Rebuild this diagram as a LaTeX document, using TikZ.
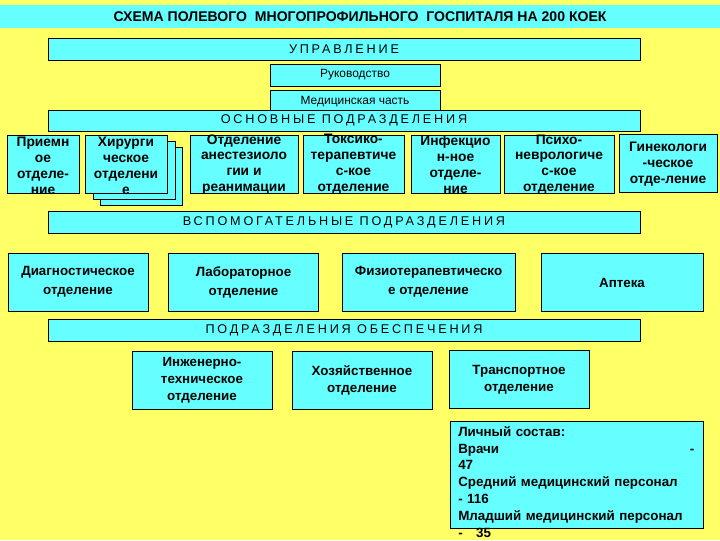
\documentclass[tikz,border=0pt]{standalone}
\usepackage{fontspec}
\setmainfont{Liberation Sans}
\definecolor{bgyellow}{RGB}{255,255,102}
\definecolor{boxcyan}{RGB}{102,255,255}

\begin{document}
\begin{tikzpicture}[x=0.025cm,y=-0.025cm,
    box/.style={draw=black,fill=boxcyan,line width=0.6pt,inner sep=0pt,align=center},
    head/.style={box,minimum width=14.8cm,minimum height=0.55cm,
        font=\fontsize{9}{10}\selectfont\addfontfeature{LetterSpace=22}},
    small/.style={box,minimum width=4.25cm,minimum height=0.55cm,font=\fontsize{8.5}{10}\selectfont},
    deptA/.style={align=center,inner sep=0pt,font=\bfseries\fontsize{9.8}{11.3}\selectfont},
    deptB/.style={box,minimum height=1.45cm,font=\bfseries\fontsize{9.5}{13.5}\selectfont},
    deptC/.style={box,minimum height=1.45cm,font=\bfseries\fontsize{9.5}{12}\selectfont}]
    \useasboundingbox (0,0) rectangle (720,540);
    \fill[bgyellow] (0,0) rectangle (720,540);

    % --- TITLE AND MANAGEMENT ---
    \node[fill=boxcyan,inner sep=0pt,minimum width=18cm,minimum height=0.55cm,
        font=\bfseries\fontsize{10}{11}\selectfont] (title) at (360,16.5)
        {СХЕМА ПОЛЕВОГО\ \ МНОГОПРОФИЛЬНОГО\ \ ГОСПИТАЛЯ НА 200 КОЕК};
    \node[head] (upr) at (344,49) {УПРАВЛЕНИЕ};
    \node[small] (ruk) at (355,75) {Руководство};
    \node[small] (med) at (355,101.5) {Медицинская часть};
    \node[head,minimum height=0.525cm] (osn) at (344,120.5) {ОСНОВНЫЕ ПОДРАЗДЕЛЕНИЯ};

    % --- MAIN DEPARTMENTS ---
    \node[box,minimum width=1.8cm,minimum height=1.45cm] (priem) at (43,164) {};
    \node[box,minimum width=2.05cm,minimum height=1.45cm] (hirC) at (141,176.5) {};
    \node[box,minimum width=2.05cm,minimum height=1.45cm] (hirB) at (134,170.5) {};
    \node[box,minimum width=2.05cm,minimum height=1.45cm] (hir) at (126,164.5) {};
    \node[box,minimum width=2.7cm,minimum height=1.45cm] (anest) at (244,164) {};
    \node[box,minimum width=2.525cm,minimum height=1.45cm] (toks) at (353.5,164) {};
    \node[box,minimum width=2.225cm,minimum height=1.45cm] (infek) at (455.5,164) {};
    \node[box,minimum width=2.75cm,minimum height=1.45cm] (psih) at (559,164) {};
    \node[box,minimum width=2.45cm,minimum height=1.45cm] (gin) at (668,163.5) {};
    \node[deptA] (priemT) at (43,166) {Приемн\\ое\\отделе-\\ние};
    \node[deptA] (hirT) at (126,166) {Хирурги\\ческое\\отделени\\е};
    \node[deptA] (anestT) at (244,164.5) {Отделение\\анестезиоло\\гии и\\реанимации};
    \node[deptA] (toksT) at (353.5,164) {Токсико-\\терапевтиче\\с-кое\\отделение};
    \node[deptA] (infekT) at (455.5,164.5) {Инфекцио\\н-ное\\отделе-\\ние};
    \node[deptA] (psihT) at (559,164.5) {Психо-\\неврологиче\\с-кое\\отделение};
    \node[deptA] (ginT) at (668,164.5) {Гинекологи\\-ческое\\отде-ление};

    % --- AUXILIARY DEPARTMENTS ---
    \node[head] (vsp) at (344,222) {ВСПОМОГАТЕЛЬНЫЕ ПОДРАЗДЕЛЕНИЯ};
    \node[deptB,minimum width=3.5cm] (diag) at (78,282) {Диагностическое\\отделение};
    \node[deptB,minimum width=3.75cm] (lab) at (243.5,282) {Лабораторное\\отделение};
    \node[deptB,minimum width=4.325cm] (fiz) at (428.5,282) {Физиотерапевтическо\\е отделение};
    \node[deptB,minimum width=4.05cm] (apt) at (622,282.5) {Аптека};

    % --- SUPPLY DEPARTMENTS ---
    \node[head] (pod) at (344,330) {ПОДРАЗДЕЛЕНИЯ ОБЕСПЕЧЕНИЯ};
    \node[deptC,minimum width=3.5cm] (inzh) at (202,380) {Инженерно-\\техническое\\отделение};
    \node[deptC,minimum width=3.5cm] (hoz) at (362,380) {Хозяйственное\\отделение};
    \node[deptC,minimum width=3.5cm] (trans) at (519,379.5) {Транспортное\\отделение};

    % --- STAFF ---
    \node[box,minimum width=6.325cm,minimum height=2.675cm] (lich) at (576.5,474.5) {};
    \node[anchor=north west,inner sep=0pt,text width=5.9cm,align=left,
        font=\bfseries\fontsize{9.5}{12}\selectfont] (lichT) at (458,426)
        {Личный состав:\\Врачи\hfill-\\47\\Средний медицинский персонал\\- 116\\Младший медицинский персонал\\-\ \ \ 35};
\end{tikzpicture}
\end{document}
